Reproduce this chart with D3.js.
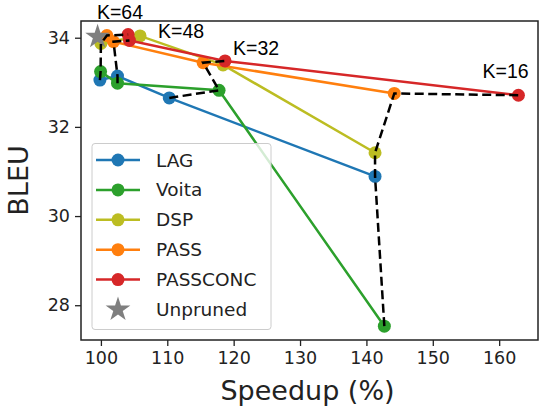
<!DOCTYPE html>
<html>
<head>
<meta charset="utf-8">
<script src="https://cdn.jsdelivr.net/npm/d3@7"></script>
<style>
  html, body { margin: 0; padding: 0; background: #fff; }
  svg { display: block; font-family: "DejaVu Sans", sans-serif; }
</style>
</head>
<body>
<svg id="chart" width="540" height="407"></svg>
<script>
// Pruning levels, one point per level for each method
const levels = ["K=64", "K=48", "K=32", "K=16"];

// Speedup (%) and BLEU for each method, ordered K=64, 48, 32, 16
const lagSpeedup = [99.85, 102.5, 110.3, 141.3];
const lagBleu = [33.05, 33.14, 32.65, 30.89];
const voitaSpeedup = [99.95, 102.5, 117.8, 142.7];
const voitaBleu = [33.24, 32.98, 32.82, 27.53];
const dspSpeedup = [100.0, 105.9, 118.4, 141.3];
const dspBleu = [33.87, 34.04, 33.39, 31.42];
const passSpeedup = [100.9, 101.9, 115.4, 144.2];
const passBleu = [34.05, 33.91, 33.44, 32.75];
const passconcSpeedup = [104.1, 104.3, 118.7, 162.9];
const passconcBleu = [34.07, 33.94, 33.48, 32.71];

// Unpruned baseline
const unprunedSpeedup = 99.5;
const unprunedBleu = 34.02;

const methodNames = ["LAG", "Voita", "DSP", "PASS", "PASSCONC"];
const methodColors = ["#1f77b4", "#2ca02c", "#bcbd22", "#ff7f0e", "#d62728"];

// Methods joined by the dashed line of each pruning level
const levelPaths = [
  ["LAG", "Voita", "DSP", "PASS", "PASSCONC"],
  ["Voita", "LAG", "PASS", "PASSCONC"],
  ["LAG", "Voita", "PASS", "PASSCONC"],
  ["Voita", "LAG", "DSP", "PASS", "PASSCONC"]
];

// Level label anchors (speedup, BLEU)
const labelSpeedup = [99.4, 108.6, 119.9, 157.5];
const labelBleu = [34.42, 33.99, 33.61, 33.1];

const xTicks = [100, 110, 120, 130, 140, 150, 160];
const yTicks = [28, 30, 32, 34];

const speedups = [lagSpeedup, voitaSpeedup, dspSpeedup, passSpeedup, passconcSpeedup];
const bleus = [lagBleu, voitaBleu, dspBleu, passBleu, passconcBleu];
const series = methodNames.map((name, i) => ({
  name, color: methodColors[i],
  points: speedups[i].map((s, j) => ({ x: s, y: bleus[i][j] }))
}));
const byName = Object.fromEntries(series.map(s => [s.name, s]));

const svg = d3.select("#chart");
const plotLeft = 81, plotRight = 538, plotTop = 21, plotBottom = 340;

const x = d3.scaleLinear().domain([97, 165.85]).range([plotLeft, plotRight]);
const y = d3.scaleLinear().domain([27.22, 34.375]).range([plotBottom, plotTop]);

svg.append("rect").attr("width", 540).attr("height", 407).attr("fill", "#fff");

const line = d3.line().x(d => x(d.x)).y(d => y(d.y));

const plot = svg.append("g");

// Method lines and markers
series.forEach(s => {
  plot.append("path").datum(s.points)
    .attr("d", line).attr("fill", "none")
    .attr("stroke", s.color).attr("stroke-width", 2.5);
  plot.selectAll(null).data(s.points).enter().append("circle")
    .attr("cx", d => x(d.x)).attr("cy", d => y(d.y)).attr("r", 6.5)
    .attr("fill", s.color);
});

// Unpruned star
const star = d3.symbol().type(d3.symbolStar).size(190);
plot.append("path").attr("d", star())
  .attr("transform", `translate(${x(unprunedSpeedup)},${y(unprunedBleu)})`)
  .attr("fill", "#7f7f7f");

// Dashed lines joining equal pruning levels
levelPaths.forEach((names, k) => {
  const pts = names.map(n => byName[n].points[k]);
  plot.append("path").datum(pts)
    .attr("d", line).attr("fill", "none")
    .attr("stroke", "#000").attr("stroke-width", 2.5)
    .attr("stroke-dasharray", "9,4.5");
});

// Level labels
levels.forEach((lab, k) => {
  svg.append("text")
    .attr("x", x(labelSpeedup[k])).attr("y", y(labelBleu[k]))
    .attr("font-family", "'Liberation Sans', Arial, sans-serif")
    .attr("font-size", 19.5).attr("fill", "#000")
    .text(lab);
});

// Axes
const xAxis = svg.append("g").attr("transform", `translate(0,${plotBottom})`)
  .call(d3.axisBottom(x).tickValues(xTicks).tickSize(6).tickPadding(6));
const yAxis = svg.append("g").attr("transform", `translate(${plotLeft},0)`)
  .call(d3.axisLeft(y).tickValues(yTicks).tickSize(6).tickPadding(5));
[xAxis, yAxis].forEach(a => {
  a.select(".domain").remove();
  a.selectAll(".tick line").attr("stroke", "#222").attr("stroke-width", 1.3);
  a.selectAll(".tick text").attr("font-size", 17.5).attr("fill", "#222")
    .attr("font-family", "DejaVu Sans, sans-serif");
});

// Frame
svg.append("rect").attr("x", plotLeft).attr("y", plotTop)
  .attr("width", plotRight - plotLeft).attr("height", plotBottom - plotTop)
  .attr("fill", "none").attr("stroke", "#222").attr("stroke-width", 1.5);

// Axis titles
svg.append("text").attr("x", (plotLeft + plotRight) / 2 - 2).attr("y", 400)
  .attr("text-anchor", "middle").attr("font-size", 27).attr("fill", "#222")
  .text("Speedup (%)");
svg.append("text")
  .attr("transform", `translate(28,${(plotTop + plotBottom) / 2}) rotate(-90)`)
  .attr("text-anchor", "middle").attr("font-size", 27).attr("fill", "#222")
  .text("BLEU");

// Legend
const legend = svg.append("g");
legend.append("rect").attr("x", 92).attr("y", 143.5).attr("width", 179).attr("height", 186)
  .attr("rx", 3).attr("fill", "#fff").attr("fill-opacity", 0.8)
  .attr("stroke", "#ccc").attr("stroke-width", 1);
const legendItems = series.map(s => ({ name: s.name, color: s.color, kind: "line" }))
  .concat([{ name: "Unpruned", color: "#7f7f7f", kind: "star" }]);
legendItems.forEach((it, i) => {
  const cy = 160 + i * 29.9;
  const g = legend.append("g");
  if (it.kind === "line") {
    g.append("line").attr("x1", 96).attr("x2", 140).attr("y1", cy).attr("y2", cy)
      .attr("stroke", it.color).attr("stroke-width", 2.5);
    g.append("circle").attr("cx", 118).attr("cy", cy).attr("r", 6.5).attr("fill", it.color);
  } else {
    g.append("path").attr("d", star()).attr("transform", `translate(118,${cy})`)
      .attr("fill", it.color);
  }
  g.append("text").attr("x", 156).attr("y", cy + 6.5)
    .attr("font-size", 18.5).attr("fill", "#222").text(it.name);
});
</script>
</body>
</html>
